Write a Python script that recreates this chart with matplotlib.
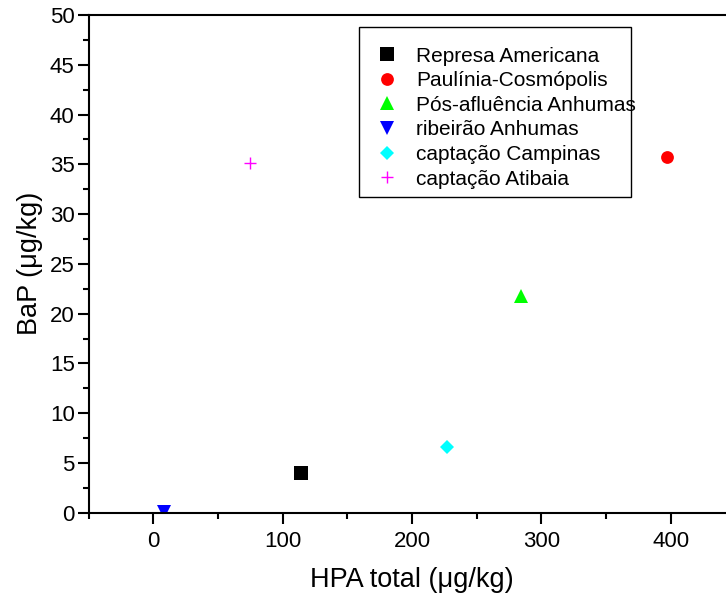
import matplotlib
matplotlib.use("Agg")
import matplotlib.pyplot as plt
from matplotlib.patches import Rectangle
from matplotlib.ticker import MultipleLocator

plt.rcParams['font.family'] = ['Liberation Sans', 'DejaVu Sans']

# Sampling sites, total PAH and benzo[a]pyrene concentrations (µg/kg)
sites = ["Represa Americana", "Paulínia-Cosmópolis", "Pós-afluência Anhumas",
         "ribeirão Anhumas", "captação Campinas", "captação Atibaia"]
hpa_total = [114, 397, 284, 8, 227, 75]
bap = [4.0, 35.7, 21.8, 0.1, 6.6, 35.1]

colors = ["#000000", "#ff0000", "#00ff00", "#0000ff", "#00ffff", "#ff00ff"]
markers = ["s", "o", "^", "v", "D", "+"]
msizes = [9.6, 9.2, 10.3, 9.6, 7.0, 9.1]

fig = plt.figure(figsize=(7.26, 5.98), dpi=100)
ax = fig.add_axes([0.122, 0.1426, 0.891, 0.8324])

handles = []
for name, x, y, c, m, s in zip(sites, hpa_total, bap, colors, markers, msizes):
    if m == "+":
        h, = ax.plot([x], [y], linestyle="none", marker=m, markersize=s,
                     color=c, markeredgewidth=1.0, label=name)
    else:
        h, = ax.plot([x], [y], linestyle="none", marker=m, markersize=s,
                     color=c, markeredgewidth=0, label=name)
    handles.append(h)

ax.set_xlim(-50, 450)
ax.set_ylim(0, 50)
ax.xaxis.set_major_locator(MultipleLocator(100))
ax.xaxis.set_minor_locator(MultipleLocator(50))
ax.yaxis.set_major_locator(MultipleLocator(5))
ax.yaxis.set_minor_locator(MultipleLocator(2.5))

for sp in ax.spines.values():
    sp.set_linewidth(1.5)
ax.tick_params(which="major", direction="out", length=8, width=1.5,
               labelsize=16, pad=2)
ax.tick_params(axis="x", which="major", pad=5)
ax.tick_params(which="minor", direction="out", length=4.2, width=1.5)

ax.set_xlabel("HPA total (μg/kg)", fontsize=19.5, labelpad=11)
ax.set_ylabel("BaP (μg/kg)", fontsize=19.5, labelpad=5)

# legend box
leg = ax.legend(handles=handles, loc="upper left",
                bbox_to_anchor=(376.3 / 726, 1 - 46.5 / 598),
                bbox_transform=fig.transFigure, frameon=False,
                fontsize=15, borderpad=0, borderaxespad=0,
                handlelength=1.0, handletextpad=0.9, labelspacing=0.27,
                numpoints=1)
fig.patches.append(Rectangle((359 / 726, 1 - 197 / 598), 272 / 726, 170 / 598,
                             transform=fig.transFigure, fill=False,
                             edgecolor="black", linewidth=1.0, zorder=5))

fig.savefig("out.png", dpi=100)
